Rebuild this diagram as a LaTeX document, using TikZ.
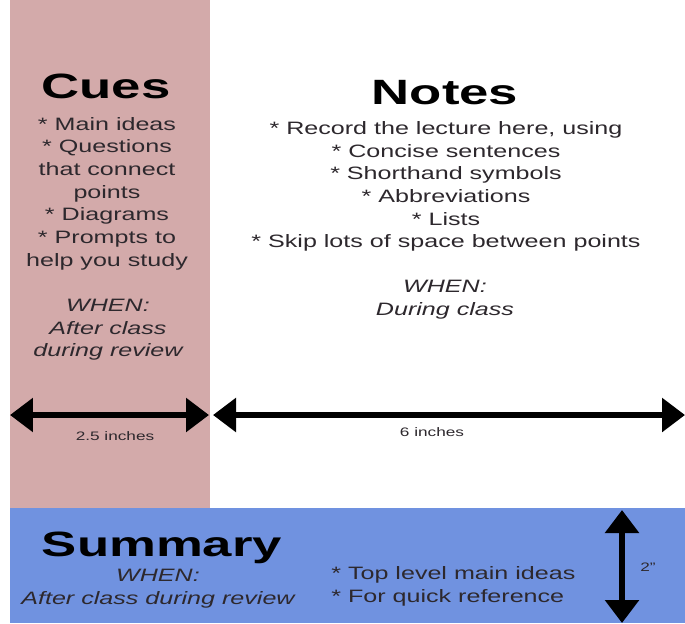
\documentclass[tikz,border=0pt]{standalone}
\usepackage{fontspec}
\setmainfont[FakeStretch=1.4]{Liberation Sans}
\newfontfamily\headfont[FakeStretch=1.5]{Liberation Sans}
\usepackage{xcolor}
\usetikzlibrary{arrows.meta}
\definecolor{cuespink}{RGB}{211, 170, 170}
\definecolor{summaryblue}{RGB}{112, 146, 224}
\definecolor{textgray}{RGB}{45, 40, 45}

\begin{document}
\begin{tikzpicture}[x=0.02cm, y=-0.02cm,
    heading/.style={font=\headfont\fontsize{20}{22}\selectfont\bfseries, text=black, inner sep=0pt},
    body/.style={font=\fontsize{10.2}{12.9}\selectfont, align=center, text=textgray, inner sep=0pt},
    when/.style={body, font=\fontsize{10.2}{12.9}\selectfont\itshape},
    dimlabel/.style={font=\fontsize{7}{8}\selectfont, text=textgray, inner sep=0pt},
    measure/.style={line width=3.4pt, {Triangle[length=0.46cm, width=0.66cm]}-{Triangle[length=0.46cm, width=0.66cm]}}]
    \useasboundingbox (0,0) rectangle (685,623);

    % Column backgrounds
    \fill[white] (0,0) rectangle (685,623);
    \fill[cuespink] (10,0) rectangle (210,508);
    \fill[summaryblue] (10,508) rectangle (685,623);

    % Cues column
    \node[heading, anchor=base] (cues) at (106,98) {Cues};
    \node[body] (cueslist) at (107,193.5) {* Main ideas\\* Questions\\that connect\\points\\* Diagrams\\* Prompts to\\help you study};
    \node[when] (cueswhen) at (108,330) {WHEN:\\After class\\during review};

    % Notes column
    \node[heading, anchor=base] (notes) at (445,104) {Notes};
    \node[body] (noteslist) at (446,186.5) {* Record the lecture here, using\\* Concise sentences\\* Shorthand symbols\\* Abbreviations\\* Lists\\* Skip lots of space between points};
    \node[when] (noteswhen) at (445,300) {WHEN:\\During class};

    % Widths
    \coordinate (cuesleft) at (10,415);
    \coordinate (cuesright) at (209,415);
    \coordinate (notesleft) at (213,415);
    \coordinate (notesright) at (685,415);
    \draw[measure] (cuesleft) -- (cuesright);
    \draw[measure] (notesleft) -- (notesright);
    \node[dimlabel] (cueswidth) at (115,436) {2.5 inches};
    \node[dimlabel] (noteswidth) at (432,432) {6 inches};

    % Summary row
    \node[heading, anchor=base] (summary) at (162,556) {Summary};
    \node[when] (sumwhen) at (158,589) {WHEN:\\After class during review};
    \node[body, align=left, anchor=west] (sumlist) at (331,586.5) {* Top level main ideas\\* For quick reference};

    % Height
    \coordinate (sumtop) at (622,510);
    \coordinate (sumbottom) at (622,623);
    \draw[measure] (sumtop) -- (sumbottom);
    \node[dimlabel] (sumheight) at (648,567) {2"};
\end{tikzpicture}
\end{document}
